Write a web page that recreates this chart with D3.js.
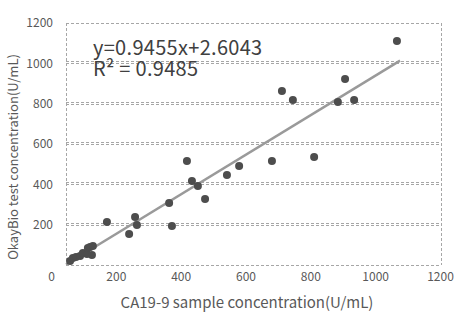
<!DOCTYPE html>
<html><head><meta charset="utf-8">
<script src="https://cdn.jsdelivr.net/npm/d3@7"></script>
<style>body{margin:0;background:#fff}svg{display:block}</style>
</head><body>
<script>
const xValues = [1059,691,726,870,893,922,659,794,387,403,422,515,554,330,445,339,131,221,227,202,13,22,32,45,54,67,70,77,86,83];
const yValues = [1111,863,818,808,922,818,516,535,516,416,392,446,491,307,327,193,213,238,198,154,20,35,40,45,59,55,84,89,94,50];
const xTicks = [0,200,400,600,800,1000,1200];
const yTicks = [200,400,600,800,1000,1200];
const gridValues = [200,400,600,800,1000];
const slope = 0.9455, intercept = 2.6043;
const fitRange = [0, 1069];
const equationText = "y=0.9455x+2.6043";
const r2Text = "R\u00B2 = 0.9485";
const xTitle = "CA19-9 sample concentration(U/mL)";
const yTitle = "OkayBio test concentration(U/mL)";

const W = 464, H = 324;
const font = "'Noto Sans CJK SC','Noto Sans',sans-serif";
const svg = d3.select("body").append("svg").attr("width", W).attr("height", H);

const x = d3.scaleLinear().domain([0,1200]).range([66,441]);
const xLabel = d3.scaleLinear().domain([0,1200]).range([51,440]);
const y = d3.scaleLinear().domain([0,1200]).range([265,23]);

const grid = "#a6a6a6";
const fr = svg.append("g").attr("stroke", grid).attr("stroke-width",1).attr("stroke-dasharray","3,2").attr("fill","none");
fr.append("line").attr("x1",x(0)).attr("x2",x(1200)).attr("y1",y(1200)+0.5).attr("y2",y(1200)+0.5);
fr.append("line").attr("x1",x(0)).attr("x2",x(1200)).attr("y1",y(0)+0.5).attr("y2",y(0)+0.5);
fr.append("line").attr("x1",x(0)+0.5).attr("x2",x(0)+0.5).attr("y1",y(1200)).attr("y2",y(0));
fr.append("line").attr("x1",x(1200)+0.5).attr("x2",x(1200)+0.5).attr("y1",y(1200)).attr("y2",y(0));
gridValues.forEach(v=>{
  [0,-2].forEach(o=>{
    fr.append("line").attr("x1",x(0)).attr("x2",x(1200))
      .attr("y1",Math.round(y(v))+o+0.5).attr("y2",Math.round(y(v))+o+0.5);
  });
});

const fmt = d3.format("d");
const yAxis = svg.append("g").attr("transform","translate(56,0)")
  .call(d3.axisLeft(y).tickValues(yTicks).tickFormat(fmt).tickSize(0).tickPadding(3));
yAxis.select(".domain").remove();
yAxis.selectAll("text").attr("font-family",font).attr("font-size",12).attr("fill","#595959");

const xAxis = svg.append("g").attr("transform","translate(0,272)")
  .call(d3.axisBottom(xLabel).tickValues(xTicks).tickFormat(fmt).tickSize(0).tickPadding(0));
xAxis.select(".domain").remove();
xAxis.selectAll("text").attr("font-family",font).attr("font-size",12).attr("fill","#595959");

svg.append("line").attr("x1",x(fitRange[0])).attr("y1",y(slope*fitRange[0]+intercept))
  .attr("x2",x(fitRange[1])).attr("y2",y(slope*fitRange[1]+intercept))
  .attr("stroke","#9a9a9a").attr("stroke-width",2.5);

svg.append("g").selectAll("circle").data(xValues.map((v,i)=>[v,yValues[i]])).join("circle")
  .attr("cx",d=>x(d[0])).attr("cy",d=>y(d[1])).attr("r",4).attr("fill","#4d4d4d");

const eq = svg.append("text").attr("font-family",font).attr("font-size",20)
  .attr("letter-spacing",0.3).attr("fill","#404040");
eq.append("tspan").attr("x",93).attr("y",55).text(equationText);
eq.append("tspan").attr("x",93).attr("y",76).text(r2Text);

svg.append("text").attr("x",247).attr("y",308).attr("text-anchor","middle").text(xTitle)
  .attr("font-family",font).attr("font-size",15).attr("fill","#595959");
svg.append("text").attr("transform","translate(18,157) rotate(-90)").attr("text-anchor","middle").text(yTitle)
  .attr("font-family",font).attr("font-size",13).attr("fill","#595959");
</script>
</body></html>
